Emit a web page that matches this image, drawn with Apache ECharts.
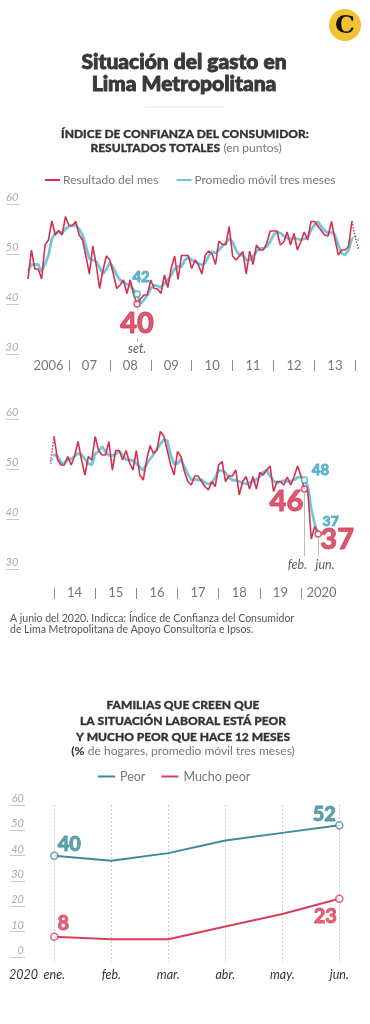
<!DOCTYPE html>
<html><head><meta charset="utf-8">
<script src="https://cdn.jsdelivr.net/npm/echarts@6/dist/echarts.min.js"></script>
<style>html,body{margin:0;padding:0;background:#fff}#c{width:370px;height:1024px}</style>
</head><body><div id="c"></div>
<script>
// ---------- DATA ----------
// Chart 1: monthly, Jan 2006 .. Dec 2013 (96 values)
const red1 = [45, 50.8, 47, 47, 45, 51.8, 52.8, 56.6, 53.8, 54.7, 53.8, 57.5,
 55.7, 55.7, 56.5, 53.8, 52.8, 49.5, 46, 51.6, 47.8, 43.1, 46.8, 49.6,
 48.8, 46.1, 43.1, 43.8, 44.8, 42.1, 44.8, 41.8, 40, 41, 41.8, 41.8,
 44.8, 43.1, 43, 42.1, 45.8, 43.3, 47.1, 49.6, 44.9, 49.7, 49.7, 49.7,
 47.1, 48.8, 47.8, 46, 49.8, 50.6, 50, 47.9, 52.6, 51.9, 51.9, 55.5,
 49.6, 48.8, 49.6, 50.5, 46, 50.6, 47.9, 51.8, 50.8, 50.8, 52.1, 54.6,
 54.6, 54.6, 51.8, 52.4, 54.4, 51.8, 54.1, 50.8, 52.4, 54.4, 52.8, 56.5,
 56.5, 55.6, 54.7, 53.8, 53.6, 56.5, 53, 49.8, 50.8, 50.8, 51.5, 56.6];
const cyan1 = [46.5, 47.9, 47.9, 47.9, 46.5, 48, 49.7, 53, 54.2, 54.4, 54.2, 55,
 55.5, 55.7, 55.7, 55, 53.8, 51.5, 49.1, 48.8, 48.5, 47.3, 46, 47,
 48.3, 47.3, 45.8, 44.8, 44.3, 44, 43.6, 42.8, 42, 40.1, 40.8, 41.8,
 43.1, 43.8, 43.6, 43.3, 44.1, 44.8, 45.8, 47, 47.5, 47.5, 48.8, 49.3,
 48.8, 48.5, 48.1, 47.8, 48.3, 49.6, 50.5, 50.2, 50.8, 51.6, 52.1, 53.1,
 52.4, 50.8, 49.8, 49.8, 48.8, 48.8, 49.5, 50.5, 51.1, 51.1, 51.5, 52.4,
 53.8, 54.4, 54.2, 53.6, 53.2, 53, 53.2, 53, 52.8, 53, 53.3, 54.8,
 55.8, 56.5, 55.5, 54.7, 54.2, 54.4, 53.8, 51.8, 50.1, 49.8, 50.8, 53.1];
// dotted continuation (Dec 2013 -> Feb 2014)
const red1Tail = [56.6, 53.2, 50.8];
const cyan1Tail = [53.1, 53.6, 52.6];
const years1 = ['2006', '07', '08', '09', '10', '11', '12', '13'];

// Chart 2: monthly, Jan 2014 .. Jun 2020 (78 values)
const red2 = [56.5, 52, 50.8, 50.8, 52.5, 50.8, 52.6, 55.5, 51.9, 48.8, 52.5, 51.8,
 56.5, 53.7, 52.8, 52.8, 55.5, 49.8, 53.7, 53.7, 51.8, 53.7, 51.3, 49.8,
 53.7, 48.8, 47.8, 51.8, 54.7, 53.1, 53.8, 57.5, 56.6, 53.8, 50.8, 48.8,
 53.5, 52.5, 49.5, 47.5, 46.8, 48.6, 48.6, 47.5, 46.5, 45.8, 47.5, 46.5,
 50.8, 51.5, 47.5, 48.6, 48.6, 49.8, 44.8, 47.5, 48.5, 46.0, 48.5, 46.0,
 49.3, 48.8, 49.8, 50.6, 45.5, 47.5, 47.5, 46.8, 48.4, 46.8, 48.5, 50.6,
 48.6, 46, 45.5, 36, 38.5, 37];
const cyan2 = [53.0, 52.5, 51.3, 51.1, 51.9, 52.0, 52.6, 53.1, 52.9, 52.0, 51.1, 50.8,
 53.1, 53.5, 54.5, 53.5, 52.7, 52.7, 53.0, 53.6, 52.7, 51.9, 51.8, 51.7,
 51.1, 50.4, 49.7, 51.0, 52.0, 52.9, 54.0, 55.0, 55.9, 55.7, 52.9, 51.0,
 51.1, 51.9, 50.5, 49.0, 47.9, 47.9, 47.8, 47.8, 47.3, 47.0, 47.3, 48.3,
 49.8, 49.6, 49.3, 48.3, 47.8, 47.7, 47.5, 47.2, 47.0, 47.3, 47.5, 47.9,
 48.5, 49.3, 49.8, 48.6, 47.6, 47.2, 47.4, 47.7, 47.5, 47.6, 47.8, 48.3,
 48.4, 47.8, 46.5, 42.0, 39.0, 37.0];
// dotted lead-in from Dec 2013
const red2Lead = 51.5;
const cyan2Lead = 51.0;
const years2 = ['14', '15', '16', '17', '18', '19', '2020'];

// Chart 3
const months3 = ['ene.', 'feb.', 'mar.', 'abr.', 'may.', 'jun.'];
const peor = [40, 38, 41, 46, 49, 52];
const muchoPeor = [8, 7, 7, 12, 17, 23];
const yTicks12 = [30, 40, 50, 60];
const yTicks3 = [0, 10, 20, 30, 40, 50, 60];

// ---------- BUILD ----------
const FONT = 'Lato';
const RED = '#d5304e', CYAN = '#72c8da', CYAN_T = '#3fa6c2', TEAL = '#3a8c97', RED3 = '#d93e5a', RED_T = '#d32f4d';

const cat1 = []; for (let i = 0; i < red1.length + 2; i++) cat1.push('m' + i);
const cat2 = []; for (let i = 0; i < 85; i++) cat2.push('n' + (i - 1));

const pad = (arr, before, total) => {
  const out = []; for (let i = 0; i < before; i++) out.push(null);
  arr.forEach(v => out.push(v)); while (out.length < total) out.push(null); return out;
};

const N1 = red1.length; // 96
const red1TailData = pad(red1Tail, N1 - 1, cat1.length);
const cyan1TailData = pad(cyan1Tail, N1 - 1, cat1.length);
const red2Data = pad(red2, 1, cat2.length);
const cyan2Data = pad(cyan2, 1, cat2.length);
const red2LeadData = pad([red2Lead, red2[0]], 0, cat2.length);
const cyan2LeadData = pad([cyan2Lead, cyan2[0]], 0, cat2.length);

const iSet = 32;          // set. 2008
const iFeb = 73 + 1;      // feb 2020 in cat2
const iJun = 77 + 1;      // jun 2020 in cat2

function yAx(grid, min, max, offset, tickLen) {
  return {
    type: 'value', gridIndex: grid, min, max, interval: 10, offset,
    axisLine: { show: false }, splitLine: { show: false },
    axisTick: { show: true, length: tickLen, lineStyle: { color: '#c9c9c9', width: 1 } },
    axisLabel: { color: '#ababab', fontStyle: 'italic', fontSize: 11, fontFamily: FONT, margin: 1, verticalAlign: 'bottom', padding: [0, 0, 1, 0] }
  };
}
const lbl = (txt, color, size, off, weight, extra) => Object.assign({
  show: true, formatter: txt, position: 'inside', offset: off, color, fontSize: size,
  fontWeight: weight || 900, fontFamily: FONT
}, extra || {});
const big = (color) => ({ textBorderColor: color, textBorderWidth: 0.8 });

const circ = (x, y, col, label) => ({ value: [x, y], itemStyle: { borderColor: col }, label: label || { show: false } });
const txt = (x, y, label) => ({ value: [x, y], symbolSize: 0, itemStyle: { color: 'rgba(0,0,0,0)', borderWidth: 0 }, label });

const option = {
  animation: false,
  backgroundColor: '#fff',
  grid: [
    { left: 28, top: 204, width: 97 * 3.41, height: 150 },
    { left: 50.6, top: 419, width: 84 * 3.43, height: 150 },
    { left: 54.3, top: 805, width: 285, height: 152 }
  ],
  xAxis: [
    { type: 'category', gridIndex: 0, data: cat1, boundaryGap: false, offset: 6,
      axisLine: { show: false },
      axisTick: { show: true, length: 11, interval: (i) => i > 0 && i % 12 === 0, lineStyle: { color: '#8a8a8a' } },
      axisLabel: { interval: (i) => i % 12 === 6, formatter: (v, i) => years1[(i - 6) / 12] || '', margin: 6, verticalAlign: 'middle', color: '#777', fontSize: 13, fontFamily: FONT } },
    { type: 'category', gridIndex: 1, data: cat2, boundaryGap: false, offset: 19,
      axisLine: { show: false },
      axisTick: { show: true, length: 11, interval: (i) => (i - 1) % 12 === 0 && i <= 73, lineStyle: { color: '#8a8a8a' } },
      axisLabel: { interval: (i) => (i - 7) % 12 === 0 && i >= 7, formatter: (v, i) => years2[(i - 7) / 12] || '', margin: 5, verticalAlign: 'middle', color: '#777', fontSize: 13, fontFamily: FONT } },
    { type: 'category', gridIndex: 2, data: months3, boundaryGap: false,
      axisLine: { show: false },
      axisTick: { show: true, length: 5, interval: 0, lineStyle: { color: '#cfcfcf', type: [2, 2] } },
      splitLine: { show: true, interval: 0, lineStyle: { color: '#cfcfcf', type: [2, 2] } },
      axisLabel: { interval: 0, margin: 18, verticalAlign: 'middle', color: '#333', fontStyle: 'italic', fontSize: 12.5, fontFamily: FONT } }
  ],
  yAxis: [
    yAx(0, yTicks12[0], yTicks12[3], 8.7, 13),
    yAx(1, yTicks12[0], yTicks12[3], 31.3, 13),
    yAx(2, yTicks3[0], yTicks3[6], 29.3, 15)
  ],
  legend: [
    { left: 40, top: 169, icon: 'rect', itemWidth: 15, itemHeight: 2, itemGap: 18, selectedMode: false,
      data: ['Resultado del mes', 'Promedio móvil tres meses'],
      textStyle: { color: '#777', fontSize: 12, fontFamily: FONT, padding: [0, 0, 0, -2] } },
    { left: 93, top: 765, icon: 'rect', itemWidth: 17, itemHeight: 2, itemGap: 16, selectedMode: false,
      data: ['Peor', 'Mucho peor'],
      textStyle: { color: '#777', fontSize: 12.5, fontFamily: FONT } }
  ],
  series: [
    // chart 1
    { name: 'Promedio móvil tres meses', type: 'line', xAxisIndex: 0, yAxisIndex: 0, data: cyan1, color: CYAN,
      showSymbol: false, lineStyle: { width: 2.8, color: CYAN }, z: 2, silent: true },
    { name: 'Resultado del mes', type: 'line', xAxisIndex: 0, yAxisIndex: 0, data: red1, color: RED,
      showSymbol: false, lineStyle: { width: 1.6, color: RED }, z: 3, silent: true },
    { name: 'c1tail', type: 'line', xAxisIndex: 0, yAxisIndex: 0, data: cyan1TailData, showSymbol: false,
      lineStyle: { width: 2, color: CYAN, type: [2, 2] }, z: 2, silent: true },
    { name: 'r1tail', type: 'line', xAxisIndex: 0, yAxisIndex: 0, data: red1TailData, showSymbol: false,
      lineStyle: { width: 1.4, color: RED, type: [1.5, 1.5] }, z: 3, silent: true },
    // chart 2
    { name: 'c2', type: 'line', xAxisIndex: 1, yAxisIndex: 1, data: cyan2Data, showSymbol: false,
      lineStyle: { width: 2.8, color: CYAN }, z: 2, silent: true },
    { name: 'r2', type: 'line', xAxisIndex: 1, yAxisIndex: 1, data: red2Data, showSymbol: false,
      lineStyle: { width: 1.6, color: RED }, z: 3, silent: true },
    { name: 'c2lead', type: 'line', xAxisIndex: 1, yAxisIndex: 1, data: cyan2LeadData, showSymbol: false,
      lineStyle: { width: 2, color: CYAN, type: [2, 2] }, z: 2, silent: true },
    { name: 'r2lead', type: 'line', xAxisIndex: 1, yAxisIndex: 1, data: red2LeadData, showSymbol: false,
      lineStyle: { width: 1.4, color: RED, type: [1.5, 1.5] }, z: 3, silent: true },
    // chart 3
    { name: 'Peor', type: 'line', xAxisIndex: 2, yAxisIndex: 2, data: peor, color: TEAL, showSymbol: false,
      lineStyle: { width: 2, color: TEAL }, z: 3, silent: true },
    { name: 'Mucho peor', type: 'line', xAxisIndex: 2, yAxisIndex: 2, data: muchoPeor, color: RED3, showSymbol: false,
      lineStyle: { width: 2, color: RED3 }, z: 3, silent: true },

    // connector lines (drawn under markers)
    { name: 'conn1', type: 'line', xAxisIndex: 0, yAxisIndex: 0, data: [], silent: true, z: 4,
      markLine: { silent: true, symbol: 'none', label: { show: false }, lineStyle: { color: '#bdbdbd', width: 1, type: 'solid' },
        data: [[{ coord: [iSet, red1[iSet] - 0.7] }, { coord: [iSet, 32.4] }]] } },
    { name: 'conn2', type: 'line', xAxisIndex: 1, yAxisIndex: 1, data: [], silent: true, z: 4,
      markLine: { silent: true, symbol: 'none', label: { show: false }, lineStyle: { color: '#bdbdbd', width: 1, type: 'solid' },
        data: [[{ coord: [iFeb, red2[iFeb - 1] - 0.7] }, { coord: [iFeb, 32.6] }],
               [{ coord: [iJun, red2[iJun - 1] - 0.7] }, { coord: [iJun, 32.6] }]] } },

    // markers + labels chart 1
    { name: 'm1', type: 'scatter', xAxisIndex: 0, yAxisIndex: 0, symbol: 'circle', symbolSize: 6, silent: true, z: 10,
      itemStyle: { color: '#fff', borderWidth: 1.5 },
      data: [
        circ(iSet, cyan1[iSet], CYAN_T, lbl(String(Math.round(cyan1[iSet])), CYAN_T, 15, [4, -17], 900, big(CYAN_T))),
        circ(iSet, red1[iSet], RED, lbl(String(Math.round(red1[iSet])), RED_T, 29, [0, 20], 900, Object.assign({ backgroundColor: '#fff', padding: [0, 0] }, big(RED_T)))),
        txt(iSet, red1[iSet], lbl('set.', '#333', 12.5, [0, 45], 'normal', { fontStyle: 'italic' }))
      ] },
    // markers + labels chart 2
    { name: 'm2', type: 'scatter', xAxisIndex: 1, yAxisIndex: 1, symbol: 'circle', symbolSize: 6, silent: true, z: 10,
      itemStyle: { color: '#fff', borderWidth: 1.5 },
      data: [
        circ(iFeb, cyan2[iFeb - 1], CYAN_T, lbl('48', CYAN_T, 15, [16, -10], 900, big(CYAN_T))),
        circ(iFeb, red2[iFeb - 1], RED, lbl('46', RED_T, 29, [-18, 13], 900, big(RED_T))),
        txt(iJun, cyan2[iJun - 1], lbl('37', CYAN_T, 14, [12.5, -13], 900, big(CYAN_T))),
        circ(iJun, red2[iJun - 1], RED, lbl('37', RED_T, 29, [19, 6], 900, big(RED_T))),
        txt(iFeb, red2[iFeb - 1], lbl('feb.', '#333', 12.5, [-7, 76], 'normal', { fontStyle: 'italic' })),
        txt(iJun, red2[iJun - 1], lbl('jun.', '#333', 12.5, [7, 31], 'normal', { fontStyle: 'italic' }))
      ] },
    // markers chart 3
    { name: 'm3', type: 'scatter', xAxisIndex: 2, yAxisIndex: 2, symbol: 'circle', symbolSize: 7, silent: true, z: 10,
      itemStyle: { color: '#fff', borderWidth: 1.5 },
      data: [
        circ(0, peor[0], TEAL, lbl(String(peor[0]), TEAL, 20, [15, -11], 900, big(TEAL))),
        circ(5, peor[5], TEAL, lbl(String(peor[5]), TEAL, 20, [-15, -11], 900, big(TEAL))),
        circ(0, muchoPeor[0], RED3, lbl(String(muchoPeor[0]), RED3, 20, [9, -13], 900, big(RED3))),
        circ(5, muchoPeor[5], RED3, lbl(String(muchoPeor[5]), RED3, 20, [-14, 18], 900, big(RED3)))
      ] }
  ],
  graphic: [
    { type: 'circle', shape: { cx: 345, cy: 25, r: 16 }, style: { fill: '#f1c232' } },
    { type: 'text', x: 345, y: 26, style: { text: 'C', align: 'center', verticalAlign: 'middle', font: 'bold 25px "DejaVu Serif"', fill: '#111' } },
    { type: 'text', x: 184, y: 62, style: { text: 'Situación del gasto en', align: 'center', verticalAlign: 'middle', font: '900 21px Lato', fill: '#383838', stroke: '#383838', lineWidth: 0.9 } },
    { type: 'text', x: 184, y: 84, style: { text: 'Lima Metropolitana', align: 'center', verticalAlign: 'middle', font: '900 21px Lato', fill: '#383838', stroke: '#383838', lineWidth: 0.9 } },
    { type: 'line', shape: { x1: 145, y1: 107, x2: 225, y2: 107 }, style: { stroke: '#e8e8e8', lineWidth: 1 } },
    { type: 'text', x: 185, y: 134, style: { text: 'ÍNDICE DE CONFIANZA DEL CONSUMIDOR:', align: 'center', verticalAlign: 'middle', font: '900 12px Lato', fill: '#333', stroke: '#333', lineWidth: 0.3 } },
    { type: 'text', x: 186, y: 148, style: { text: '{b|RESULTADOS TOTALES} {n|(en puntos)}', align: 'center', verticalAlign: 'middle',
      rich: { b: { font: '900 12px Lato', fill: '#333', stroke: '#333', lineWidth: 0.3 }, n: { font: '12px Lato', fill: '#777' } } } },
    { type: 'text', x: 10, y: 619, style: { text: 'A junio del 2020. Indicca: Índice de Confianza del Consumidor', align: 'left', verticalAlign: 'middle', font: '10.5px Lato', fill: '#555' } },
    { type: 'text', x: 10, y: 630, style: { text: 'de Lima Metropolitana de Apoyo Consultoría e Ipsos.', align: 'left', verticalAlign: 'middle', font: '10.5px Lato', fill: '#555' } },
    { type: 'text', x: 183, y: 705, style: { text: 'FAMILIAS QUE CREEN QUE', align: 'center', verticalAlign: 'middle', font: '900 12px Lato', fill: '#333', stroke: '#333', lineWidth: 0.3 } },
    { type: 'text', x: 183, y: 721, style: { text: 'LA SITUACIÓN LABORAL ESTÁ PEOR', align: 'center', verticalAlign: 'middle', font: '900 12px Lato', fill: '#333', stroke: '#333', lineWidth: 0.3 } },
    { type: 'text', x: 183, y: 737, style: { text: 'Y MUCHO PEOR QUE HACE 12 MESES', align: 'center', verticalAlign: 'middle', font: '900 12px Lato', fill: '#333', stroke: '#333', lineWidth: 0.3 } },
    { type: 'text', x: 183, y: 751, style: { text: '{b|(%} {n|de hogares, promedio móvil tres meses)}', align: 'center', verticalAlign: 'middle',
      rich: { b: { font: '900 12px Lato', fill: '#333' }, n: { font: '12px Lato', fill: '#777' } } } },
    { type: 'text', x: 9, y: 975, style: { text: '2020', align: 'left', verticalAlign: 'middle', font: 'italic 12.5px Lato', fill: '#333' } }
  ]
};
const chart = echarts.init(document.getElementById('c'), null, { renderer: 'canvas' });
chart.setOption(option);
</script>
</body></html>
